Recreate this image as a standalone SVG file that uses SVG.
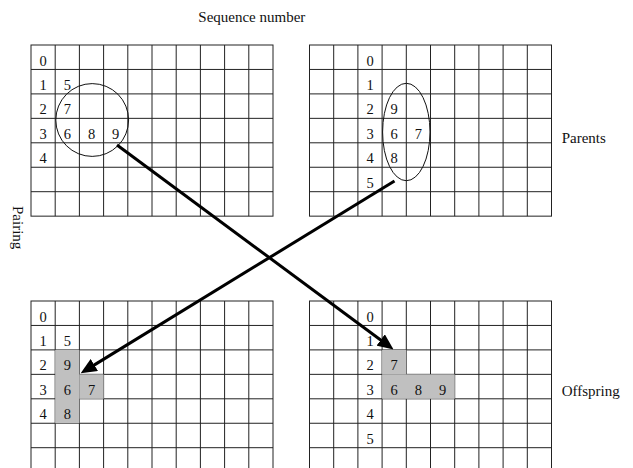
<svg xmlns="http://www.w3.org/2000/svg" xmlns:xlink="http://www.w3.org/1999/xlink" width="633" height="468" viewBox="0 0 633 468">
<style>
.grid{fill:none;stroke:#222;stroke-width:1}
.num{font-family:"Liberation Serif","Times New Roman",serif;font-size:14.5px;fill:#111;text-anchor:middle}
.lbl{font-family:"Liberation Serif","Times New Roman",serif;font-size:15px;fill:#111}
.hl{fill:#c0c0c0;stroke:none}
.ring{fill:none;stroke:#111;stroke-width:1}
.arrow{fill:none;stroke:#000;stroke-width:3;marker-end:url(#head)}
</style>
<defs>
<marker id="head" markerUnits="userSpaceOnUse" markerWidth="16" markerHeight="14" refX="8" refY="7" orient="auto">
<path d="M0,0 L16,7 L0,14 z" fill="#000"/>
</marker>
<g id="g">
<rect class="grid" x="0" y="0" width="242" height="171.15"/>
<path class="grid" d="M24.2,0V171.15M48.4,0V171.15M72.6,0V171.15M96.8,0V171.15M121,0V171.15M145.2,0V171.15M169.4,0V171.15M193.6,0V171.15M217.8,0V171.15M0,24.45H242M0,48.9H242M0,73.35H242M0,97.8H242M0,122.25H242M0,146.7H242"/>
</g>
</defs>
<rect width="633" height="468" fill="#fff"/>

<g id="labels">
<text class="lbl" x="198.3" y="21.7">Sequence number</text>
<text class="lbl" x="561.7" y="143">Parents</text>
<text class="lbl" x="561.7" y="395.5">Offspring</text>
<text class="lbl" transform="translate(12.7,206) rotate(90)">Pairing</text>
</g>

<g id="parent1">
<use xlink:href="#g" x="31" y="45"/>
<text class="num" x="43.1" y="65.5">0</text>
<text class="num" x="43.1" y="89.95">1</text>
<text class="num" x="43.1" y="114.4">2</text>
<text class="num" x="43.1" y="138.85">3</text>
<text class="num" x="43.1" y="163.3">4</text>
<text class="num" x="67.3" y="89.95">5</text>
<text class="num" x="67.3" y="114.4">7</text>
<text class="num" x="67.3" y="138.85">6</text>
<text class="num" x="91.5" y="138.85">8</text>
<text class="num" x="115.7" y="138.85">9</text>
<circle class="ring" cx="92.2" cy="120" r="36.4"/>
</g>

<g id="parent2">
<use xlink:href="#g" x="309.5" y="45"/>
<text class="num" x="370" y="65.5">0</text>
<text class="num" x="370" y="89.95">1</text>
<text class="num" x="370" y="114.4">2</text>
<text class="num" x="370" y="138.85">3</text>
<text class="num" x="370" y="163.3">4</text>
<text class="num" x="370" y="187.75">5</text>
<text class="num" x="394.2" y="114.4">9</text>
<text class="num" x="394.2" y="138.85">6</text>
<text class="num" x="394.2" y="163.3">8</text>
<text class="num" x="418.4" y="138.85">7</text>
<ellipse class="ring" cx="406.3" cy="132" rx="23.7" ry="48.7"/>
</g>

<g id="offspring1">
<use xlink:href="#g" x="31" y="301"/>
<rect class="hl" x="55.2" y="349.9" width="24.2" height="73.35"/>
<rect class="hl" x="79.4" y="374.35" width="24.2" height="24.45"/>
<text class="num" x="43.1" y="321.5">0</text>
<text class="num" x="43.1" y="345.95">1</text>
<text class="num" x="43.1" y="370.4">2</text>
<text class="num" x="43.1" y="394.85">3</text>
<text class="num" x="43.1" y="419.3">4</text>
<text class="num" x="67.3" y="345.95">5</text>
<text class="num" x="67.3" y="370.4">9</text>
<text class="num" x="67.3" y="394.85">6</text>
<text class="num" x="67.3" y="419.3">8</text>
<text class="num" x="91.5" y="394.85">7</text>
</g>

<g id="offspring2">
<use xlink:href="#g" x="309.5" y="301"/>
<rect class="hl" x="382.1" y="349.9" width="24.2" height="24.45"/>
<rect class="hl" x="382.1" y="374.35" width="72.6" height="24.45"/>
<text class="num" x="370" y="321.5">0</text>
<text class="num" x="370" y="345.95">1</text>
<text class="num" x="370" y="370.4">2</text>
<text class="num" x="370" y="394.85">3</text>
<text class="num" x="370" y="419.3">4</text>
<text class="num" x="370" y="443.75">5</text>
<text class="num" x="394.2" y="370.4">7</text>
<text class="num" x="394.2" y="394.85">6</text>
<text class="num" x="418.4" y="394.85">8</text>
<text class="num" x="442.6" y="394.85">9</text>
</g>

<g id="connectors">
<line class="arrow" x1="117" y1="145" x2="387.1" y2="344.7"/>
<line class="arrow" x1="394.5" y1="181" x2="87.5" y2="369.1"/>
</g>
</svg>
